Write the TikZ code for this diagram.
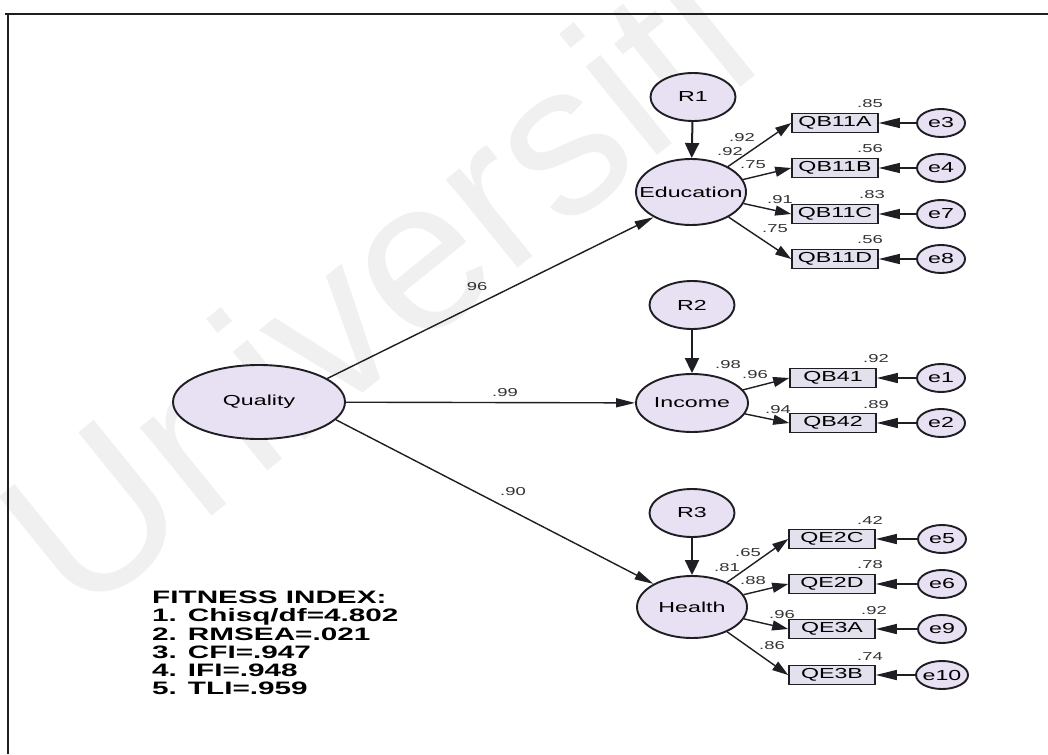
\documentclass[tikz,border=0pt]{standalone}
\usepackage{fontspec}
\setmainfont{Liberation Sans}
\usepackage{graphicx}
\usetikzlibrary{shapes.geometric,arrows.meta}
\definecolor{latfill}{RGB}{231,225,243}
\definecolor{boxfill}{RGB}{227,225,238}
\definecolor{edge}{RGB}{30,30,35}
\definecolor{wmark}{RGB}{240,240,240}
% horizontally widened text, as in the exported diagram
\newcommand{\wx}[1]{\scalebox{1.6}[1]{#1}}
\newcommand{\cx}[1]{\makebox[0pt]{\scalebox{1.6}[1]{#1}}}
\newcommand{\fx}[1]{\scalebox{1.65}[1]{#1}}
\begin{document}
\begin{tikzpicture}[x=1pt,y=-1pt,
  lat/.style={ellipse,draw=edge,line width=1.9pt,fill=latfill,inner sep=0pt,
    font=\fontsize{14.5}{16}\selectfont},
  res/.style={lat,minimum width=85pt,minimum height=48pt},
  obs/.style={rectangle,draw=edge,line width=1.6pt,fill=boxfill,minimum width=86pt,
    minimum height=19pt,inner sep=0pt,font=\fontsize{14.5}{16}\selectfont},
  err/.style={lat,minimum width=48pt,minimum height=28pt},
  val/.style={inner sep=0pt,font=\fontsize{11.5}{12}\selectfont,text=black!80},
  regpath/.style={draw=edge,line width=1.4pt,-{Triangle[length=19pt,width=9pt]}},
  loadpath/.style={draw=edge,line width=1.4pt,-{Triangle[length=16pt,width=10pt]}},
  errpath/.style={draw=edge,line width=1.4pt,-{Triangle[length=21pt,width=10pt]}},
  respath/.style={draw=edge,line width=2pt,-{Triangle[length=15pt,width=14pt]}},
]
\useasboundingbox (0,0) rectangle (1048,754);
\fill[white] (0,0) rectangle (1048,754);

% faint watermark
\node[text=wmark,rotate=39,inner sep=0pt,font=\fontsize{215}{215}\selectfont] (wm) at (375,285) {Universiti};

% frame
\draw[edge,line width=2.5pt] (5,14) -- (1048,14);
\draw[edge,line width=2pt] (8,14) -- (8,754);

% latent variables
\node[lat,minimum width=172pt,minimum height=74pt] (quality) at (259,402) {\cx{Quality}};
\node[lat,minimum width=110pt,minimum height=66pt] (edu) at (691,192) {\cx{Education}};
\node[lat,minimum width=112pt,minimum height=58pt] (inc) at (692,403) {\cx{Income}};
\node[lat,minimum width=110pt,minimum height=62pt] (hea) at (692,607) {\cx{Health}};

% residuals of the latent variables
\node[res] (r1) at (693,97) {\cx{R1}};
\node[res] (r2) at (692,305) {\cx{R2}};
\node[res] (r3) at (692,513) {\cx{R3}};

% indicators
\node[obs] (qb11a) at (835,123) {\cx{QB11A}};
\node[obs] (qb11b) at (835,168) {\cx{QB11B}};
\node[obs] (qb11c) at (835,214) {\cx{QB11C}};
\node[obs] (qb11d) at (835,259) {\cx{QB11D}};
\node[obs] (qb41) at (833,378) {\cx{QB41}};
\node[obs] (qb42) at (833,423) {\cx{QB42}};
\node[obs] (qe2c) at (832,539) {\cx{QE2C}};
\node[obs] (qe2d) at (832,584) {\cx{QE2D}};
\node[obs] (qe3a) at (832,629) {\cx{QE3A}};
\node[obs] (qe3b) at (832,675) {\cx{QE3B}};

% measurement errors
\node[err] (e3) at (941,123) {\cx{e3}};
\node[err] (e4) at (941,168) {\cx{e4}};
\node[err] (e7) at (941,214) {\cx{e7}};
\node[err] (e8) at (941,259) {\cx{e8}};
\node[err] (e1) at (941,378) {\cx{e1}};
\node[err] (e2) at (941,423) {\cx{e2}};
\node[err] (e5) at (942,539) {\cx{e5}};
\node[err] (e6) at (942,584) {\cx{e6}};
\node[err] (e9) at (942,629) {\cx{e9}};
\node[err,minimum width=52pt] (e10) at (942,675) {\cx{e10}};

% structural paths
\draw[regpath] (quality.19) -- (edu.-146);
\draw[regpath] (quality) -- (inc);
\draw[regpath] (quality.-13) -- (hea.149);

\draw[respath] (r1) -- (edu);
\draw[respath] (r2) -- (inc);
\draw[respath] (r3) -- (hea);

% loadings
\foreach \f/\t in {edu/qb11a,edu/qb11b,edu/qb11c,edu/qb11d,inc/qb41,inc/qb42,
                  hea/qe2c,hea/qe2d,hea/qe3a,hea/qe3b}
  \draw[loadpath] (\f) -- (\t.west);

% error terms
\foreach \e/\t in {e3/qb11a,e4/qb11b,e7/qb11c,e8/qb11d,e1/qb41,e2/qb42,
                  e5/qe2c,e6/qe2d,e9/qe3a,e10/qe3b}
  \draw[errpath] (\e) -- (\t.east);

% standardized estimates
\node[val] (p1) at (477,287) {\wx{96}};
\node[val] (p2) at (505,393) {\wx{.99}};
\node[val] (p3) at (513,492) {\wx{.90}};

\node[val] (l1) at (742,138) {\wx{.92}};
\node[val] (s1) at (730,152) {\wx{.92}};
\node[val] (l2) at (753,165) {\wx{.75}};
\node[val] (l3) at (780,200) {\wx{.91}};
\node[val] (l4) at (775,229) {\wx{.75}};
\node[val] (q1) at (870,104) {\wx{.85}};
\node[val] (q2) at (870,149) {\wx{.56}};
\node[val] (q3) at (872,195) {\wx{.83}};
\node[val] (q4) at (870,240) {\wx{.56}};

\node[val] (s2) at (728,365) {\wx{.98}};
\node[val] (l5) at (755,375) {\wx{.96}};
\node[val] (l6) at (778,410) {\wx{.94}};
\node[val] (q5) at (876,359) {\wx{.92}};
\node[val] (q6) at (876,405) {\wx{.89}};

\node[val] (l7) at (748,553) {\wx{.65}};
\node[val] (s3) at (727,568) {\wx{.81}};
\node[val] (l8) at (753,581) {\wx{.88}};
\node[val] (l9) at (782,615) {\wx{.96}};
\node[val] (l10) at (772,646) {\wx{.86}};
\node[val] (q7) at (870,520) {\wx{.42}};
\node[val] (q8) at (870,565) {\wx{.78}};
\node[val] (q9) at (874,611) {\wx{.92}};
\node[val] (q10) at (870,657) {\wx{.74}};

% fit summary
\node[anchor=north west,align=left,inner sep=0pt,
      font=\fontsize{18}{18.2}\selectfont\bfseries] (fit) at (152,591)
  {\fx{FITNESS INDEX:}\\ \fx{1. Chisq/df=4.802}\\ \fx{2. RMSEA=.021}\\
   \fx{3. CFI=.947}\\ \fx{4. IFI=.948}\\ \fx{5. TLI=.959}};
\end{tikzpicture}
\end{document}
